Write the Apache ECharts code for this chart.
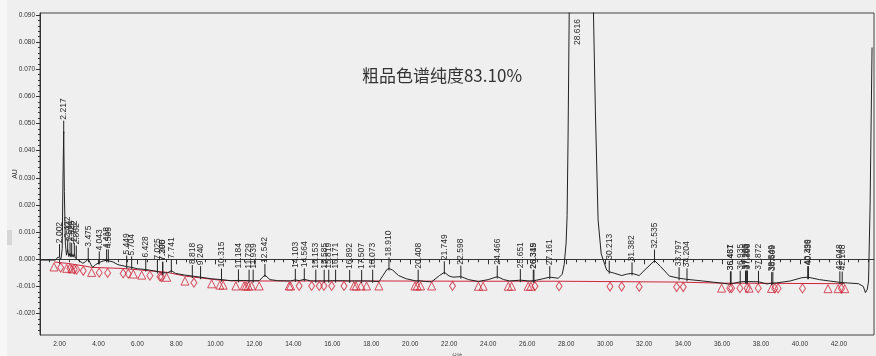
<!DOCTYPE html>
<html>
<head>
<meta charset="utf-8">
<script src="https://cdn.jsdelivr.net/npm/echarts@6/dist/echarts.min.js"></script>
<style>
  html, body { margin: 0; padding: 0; background: #efefef; }
  #chart { width: 876px; height: 356px; }
</style>
</head>
<body>
<div id="chart"></div>
<script>
// Chromatogram of the crude product: retention time (min) vs absorbance (AU)
const chartTitle = '粗品色谱纯度83.10%';
const xRange = [1.0, 43.8];
const yRange = [-0.0279, 0.0907];
const xTickValues = [2, 4, 6, 8, 10, 12, 14, 16, 18, 20, 22, 24, 26, 28, 30, 32, 34, 36, 38, 40, 42];
const yTickValues = [-0.02, -0.01, 0, 0.01, 0.02, 0.03, 0.04, 0.05, 0.06, 0.07, 0.08, 0.09];

// Detector trace [min, AU]
const signal = [
  [1.00, -0.0003], [1.80, -0.0003], [1.92, 0.0008], [2.00, 0.0015], [2.08, 0.0002],
  [2.14, 0.0040], [2.18, 0.0300], [2.217, 0.0470], [2.25, 0.0250], [2.30, 0.0060],
  [2.36, 0.0015], [2.42, 0.0035], [2.48, 0.0010], [2.54, 0.0022], [2.59, 0.0008],
  [2.63, 0.0020], [2.70, 0.0008], [2.76, 0.0020], [2.81, 0.0005], [2.86, 0.0010],
  [3.00, -0.0005], [3.20, -0.0015], [3.35, -0.0008], [3.475, 0.0002], [3.60, -0.0018],
  [3.70, -0.0030], [3.85, -0.0020], [4.04, -0.0012], [4.25, -0.0006], [4.42, -0.0004],
  [4.50, -0.0004], [4.75, -0.0010], [5.00, -0.0020], [5.45, -0.0027], [5.70, -0.0030],
  [6.00, -0.0035], [6.43, -0.0038], [7.03, -0.0045], [7.30, -0.0050], [7.55, -0.0050],
  [7.74, -0.0042], [7.95, -0.0052], [8.40, -0.0058], [8.82, -0.0062], [9.24, -0.0066],
  [9.80, -0.0072], [10.32, -0.0075], [10.80, -0.0079], [11.18, -0.0078], [11.73, -0.0079],
  [11.94, -0.0079], [12.25, -0.0079], [12.54, -0.0058], [12.80, -0.0075], [13.20, -0.0079],
  [13.85, -0.0080], [14.10, -0.0076], [14.30, -0.0079], [14.56, -0.0074], [14.90, -0.0080],
  [15.50, -0.0080], [16.20, -0.0079], [17.00, -0.0080], [17.80, -0.0080], [18.40, -0.0082],
  [18.60, -0.0060], [18.80, -0.0038], [18.91, -0.0034], [19.10, -0.0040], [19.40, -0.0060],
  [19.80, -0.0072], [20.30, -0.0080], [20.41, -0.0079], [20.80, -0.0082], [21.10, -0.0083],
  [21.50, -0.0060], [21.75, -0.0048], [22.00, -0.0062], [22.20, -0.0066], [22.60, -0.0064],
  [23.00, -0.0075], [23.50, -0.0082], [24.00, -0.0075], [24.47, -0.0064], [24.80, -0.0075],
  [25.10, -0.0080], [25.65, -0.0077], [26.10, -0.0080], [26.35, -0.0079], [26.80, -0.0072],
  [27.16, -0.0066], [27.60, -0.0070], [27.80, -0.0055], [27.90, -0.0020], [28.00, 0.0060],
  [28.05, 0.0160], [28.10, 0.0450], [28.16, 0.0920], [28.25, 0.1300], [28.616, 0.1600],
  [29.00, 0.1500], [29.35, 0.1200], [29.40, 0.0920], [29.50, 0.0550], [29.64, 0.0145],
  [29.80, 0.0020], [30.08, -0.0040], [30.21, -0.0046], [30.50, -0.0052], [30.85, -0.0060],
  [31.10, -0.0055], [31.38, -0.0052], [31.75, -0.0060], [32.10, -0.0035], [32.54, -0.0005],
  [32.85, -0.0027], [33.30, -0.0062], [33.80, -0.0070], [34.20, -0.0074], [35.00, -0.0080],
  [36.00, -0.0088], [36.40, -0.0092], [36.47, -0.0086], [36.94, -0.0083], [37.25, -0.0082],
  [37.87, -0.0083], [38.30, -0.0091], [38.55, -0.0088], [38.81, -0.0087], [39.50, -0.0080],
  [40.10, -0.0068], [40.40, -0.0066], [41.00, -0.0075], [41.50, -0.0080], [42.05, -0.0085],
  [42.17, -0.0086], [43.00, -0.0090], [43.25, -0.0100], [43.36, -0.0123], [43.46, -0.0110],
  [43.52, -0.0080], [43.60, 0.0200], [43.70, 0.0780]
];

// Integration baseline [min, AU]
const baseline = [
  [1.72, -0.0010], [2.37, -0.0015], [3.22, -0.0024], [3.65, -0.0030], [5.27, -0.0034],
  [6.22, -0.0040], [7.50, -0.0048], [8.44, -0.0062], [10.23, -0.0077], [11.05, -0.0080],
  [18.39, -0.0080], [23.50, -0.0081], [27.64, -0.0081], [33.67, -0.0084], [35.98, -0.0088],
  [42.30, -0.0090]
];

// Peak start / end markers
const triangleTimes = [1.72, 2.37, 2.63, 3.65, 5.79, 6.22, 7.50, 8.44, 9.81, 10.23, 10.40, 11.05,
  11.47, 11.57, 11.69, 11.86, 12.25, 13.79, 13.86, 17.11, 17.22, 17.47, 17.76, 18.39, 20.24,
  20.36, 20.53, 21.10, 23.50, 23.74, 25.03, 25.20, 26.05, 26.19, 35.98, 37.39, 38.54, 41.44,
  41.96, 42.30];
const triangleLevels = [-0.0010, -0.0015, -0.0017, -0.0030, -0.0036, -0.0040, -0.0048, -0.0062,
  -0.0072, -0.0077, -0.0077, -0.0080, -0.0080, -0.0080, -0.0080, -0.0080, -0.0080, -0.0080,
  -0.0080, -0.0080, -0.0080, -0.0080, -0.0080, -0.0080, -0.0080, -0.0080, -0.0080, -0.0080,
  -0.0081, -0.0081, -0.0081, -0.0081, -0.0081, -0.0081, -0.0088, -0.0088, -0.0089, -0.0090,
  -0.0090, -0.0090];
const diamondTimes = [2.06, 2.54, 2.76, 2.88, 3.22, 4.04, 4.47, 5.27, 5.53, 6.64, 7.16, 7.24,
  8.90, 14.30, 14.94, 15.33, 15.57, 15.97, 16.60, 22.17, 26.40, 27.64, 30.25, 30.85, 31.75,
  33.67, 34.01, 36.40, 36.49, 36.92, 37.29, 37.86, 38.71, 38.88, 40.13, 42.13];
const diamondLevels = [-0.0012, -0.0016, -0.0019, -0.0020, -0.0024, -0.0031, -0.0032, -0.0034,
  -0.0035, -0.0042, -0.0046, -0.0047, -0.0068, -0.0080, -0.0080, -0.0080, -0.0080, -0.0080,
  -0.0080, -0.0080, -0.0081, -0.0081, -0.0082, -0.0082, -0.0083, -0.0084, -0.0084, -0.0088,
  -0.0088, -0.0088, -0.0088, -0.0088, -0.0089, -0.0089, -0.0089, -0.0090];

// Peak apex retention times and heights
const peakTimes = [2.002, 2.217, 2.422, 2.541, 2.626, 2.762, 2.862, 3.475, 4.043, 4.418, 4.505,
  5.449, 5.704, 6.428, 7.025, 7.290, 7.305, 7.741, 8.818, 9.240, 10.315, 11.184, 11.729, 11.939,
  12.542, 14.103, 14.564, 15.153, 15.585, 15.819, 16.171, 16.892, 17.507, 18.073, 18.910, 20.408,
  21.749, 22.598, 24.466, 25.651, 26.315, 26.349, 27.161, 28.616, 30.213, 31.382, 32.535, 33.797,
  34.204, 36.431, 36.467, 36.935, 37.205, 37.263, 37.306, 37.872, 38.549, 38.609, 40.399, 40.436,
  42.048, 42.168];
const peakHeights = [0.0015, 0.0470, 0.0035, 0.0022, 0.0020, 0.0020, 0.0010, 0.0002, -0.0012,
  -0.0004, -0.0004, -0.0027, -0.0030, -0.0038, -0.0045, -0.0050, -0.0050, -0.0042, -0.0062,
  -0.0066, -0.0075, -0.0078, -0.0079, -0.0079, -0.0058, -0.0076, -0.0074, -0.0079, -0.0079,
  -0.0079, -0.0079, -0.0080, -0.0080, -0.0079, -0.0034, -0.0079, -0.0048, -0.0064, -0.0064,
  -0.0077, -0.0079, -0.0079, -0.0066, 0.1600, -0.0046, -0.0052, -0.0005, -0.0070, -0.0074,
  -0.0085, -0.0085, -0.0083, -0.0082, -0.0082, -0.0082, -0.0083, -0.0088, -0.0087, -0.0066,
  -0.0066, -0.0085, -0.0086];

const zip = (a, b) => a.map((v, i) => [v, b[i]]);

const xMinorTicks = [];
for (let v = 1.5; v <= 43.5; v += 0.5) if (v % 2 !== 0) xMinorTicks.push(v);
const yMinorTicks = [];
for (let k = -13; k <= 45; k++) if (k % 5 !== 0) yMinorTicks.push(k * 0.002);

const tickFont = { fontFamily: '"Liberation Sans Narrow", "Liberation Sans", Arial, sans-serif', fontSize: 6.5, color: '#333' };
const red = '#d0243a';

const chart = echarts.init(document.getElementById('chart'), null, { renderer: 'canvas' });

chart.setOption({
  backgroundColor: '#efefef',
  animation: false,
  title: {
    text: chartTitle,
    left: 437, top: 62, textAlign: 'center',
    textStyle: { fontFamily: '"Noto Sans CJK SC", sans-serif', fontSize: 17, fontWeight: 'normal', color: '#333' }
  },
  // window frame strip on the left edge
  graphic: [
    { type: 'rect', left: 0, top: 0, shape: { width: 7, height: 356 }, style: { fill: '#f7f7f7' }, silent: true },
    { type: 'rect', left: 7, top: 230, shape: { width: 5, height: 15 }, style: { fill: '#d6d6d6' }, silent: true }
  ],
  grid: {
    left: 40, right: 2, top: 13, bottom: 21,
    containLabel: false, outerBoundsMode: 'none',
    show: true, borderColor: '#444', borderWidth: 1, backgroundColor: 'transparent'
  },
  xAxis: [{
    type: 'value', min: xRange[0], max: xRange[1],
    name: '分钟', nameLocation: 'middle', nameGap: 18, nameMoveOverlap: false,
    nameTextStyle: { fontFamily: '"Noto Sans CJK SC", sans-serif', fontSize: 5, color: '#555' },
    axisLine: { lineStyle: { color: '#333', width: 1 } },
    axisTick: { customValues: xTickValues, length: 5, lineStyle: { color: '#333' } },
    axisLabel: { customValues: xTickValues, margin: 6, formatter: v => v.toFixed(2), ...tickFont },
    splitLine: { show: false }
  }, {
    type: 'value', min: xRange[0], max: xRange[1], position: 'bottom',
    axisLine: { show: false },
    axisTick: { customValues: xMinorTicks, length: 3, lineStyle: { color: '#333' } },
    axisLabel: { show: false },
    splitLine: { show: false }
  }],
  yAxis: [{
    type: 'value', min: yRange[0], max: yRange[1],
    name: 'AU', nameLocation: 'middle', nameGap: 21, nameRotate: 90, nameMoveOverlap: false,
    nameTextStyle: { fontFamily: '"Liberation Sans", sans-serif', fontSize: 7, color: '#333' },
    axisLine: { show: true, lineStyle: { color: '#333', width: 1 } },
    axisTick: { customValues: yTickValues, length: 4, lineStyle: { color: '#333' } },
    axisLabel: { customValues: yTickValues, margin: 5, formatter: v => v.toFixed(3), ...tickFont },
    splitLine: { show: false }
  }, {
    type: 'value', min: yRange[0], max: yRange[1], position: 'left',
    axisLine: { show: false },
    axisTick: { customValues: yMinorTicks, length: 2, lineStyle: { color: '#333' } },
    axisLabel: { show: false },
    splitLine: { show: false }
  }],
  series: [
    {
      name: 'baseline', type: 'line', data: baseline, symbol: 'none', z: 2,
      lineStyle: { color: red, width: 1 }
    },
    {
      name: 'signal', type: 'line', data: signal, symbol: 'none', z: 3,
      lineStyle: { color: '#222', width: 1 }
    },
    {
      name: 'start/end', type: 'scatter', data: zip(triangleTimes, triangleLevels), z: 4,
      symbol: 'triangle', symbolSize: [8, 8], symbolOffset: [0, 5],
      itemStyle: { color: 'rgba(0,0,0,0)', borderColor: red, borderWidth: 1 }
    },
    {
      name: 'valley', type: 'scatter', data: zip(diamondTimes, diamondLevels), z: 4,
      symbol: 'diamond', symbolSize: [6, 9], symbolOffset: [0, 5],
      itemStyle: { color: 'rgba(0,0,0,0)', borderColor: red, borderWidth: 1 }
    },
    {
      name: 'apex', type: 'custom', z: 5, clip: true,
      data: zip(peakTimes, peakHeights),
      renderItem(params, api) {
        const t = api.value(0);
        const p = api.coord([t, api.value(1)]);
        const top = params.coordSys.y;
        let labelBase = p[1] - 12;
        const children = [];
        if (labelBase < top + 32) {
          labelBase = top + 32;
        } else {
          children.push({
            type: 'line',
            shape: { x1: p[0], y1: p[1] + 2, x2: p[0], y2: labelBase + 1 },
            style: { stroke: '#222', lineWidth: 1 }
          });
        }
        children.push({
          type: 'text', x: p[0], y: labelBase, rotation: Math.PI / 2,
          style: {
            text: t.toFixed(3), align: 'left', verticalAlign: 'middle',
            fontFamily: '"Liberation Sans", Arial, sans-serif', fontSize: 8.5, fill: '#2a2a2a'
          }
        });
        return { type: 'group', children };
      }
    }
  ]
});
</script>
</body>
</html>
